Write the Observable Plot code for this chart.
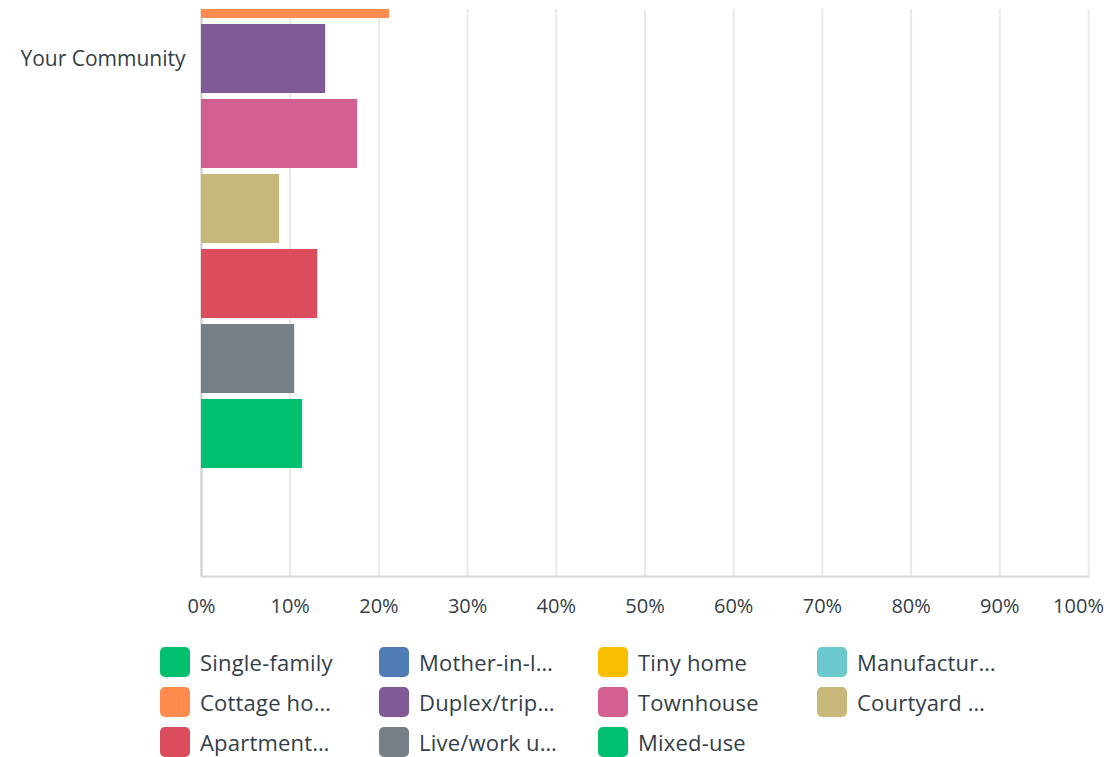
<!DOCTYPE html>
<html>
<head>
<meta charset="utf-8">
<script src="https://cdn.jsdelivr.net/npm/d3@7"></script>
<script src="https://cdn.jsdelivr.net/npm/@observablehq/plot@0.6"></script>
<style>
  html, body { margin: 0; padding: 0; background: #fff; }
  body { width: 1110px; height: 757px; overflow: hidden; font-family: "Open Sans", sans-serif; color: #333e48; }
  #chart { margin-top: 9px; height: 623px; overflow: hidden; position: relative; }
  #chart svg { display: block; margin-top: -491px; }
  #legend { display: grid; grid-template-columns: repeat(4, 219px); row-gap: 10px; margin-left: 160px; margin-top: 15px; }
  .item { display: flex; align-items: center; height: 30px; font-size: 22px; letter-spacing: 0.2px; white-space: nowrap; }
  .sw { width: 30px; height: 30px; border-radius: 5px; margin-right: 10px; flex: none; }
</style>
</head>
<body>
<div id="chart"></div>
<div id="legend"></div>
<script>
// Data
const groups = ["Your Community"];
const series = ["Single-family", "Mother-in-law", "Tiny home", "Manufactured", "Cottage home", "Duplex/triplex", "Townhouse", "Courtyard", "Apartment", "Live/work unit", "Mixed-use"];
const legendLabels = ["Single-family", "Mother-in-l…", "Tiny home", "Manufactur…", "Cottage ho…", "Duplex/trip…", "Townhouse", "Courtyard …", "Apartment…", "Live/work u…", "Mixed-use"];
const colors = ["#00BF6F", "#507CB6", "#F9BE00", "#6BC8CD", "#FF8B4F", "#7F5A96", "#D25F90", "#C7B879", "#DB4D5C", "#768086", "#00BF6F"];
// values (%) — the first four bars lie outside the visible (cropped) area
const values = [null, null, null, null, 21.2, 14.0, 17.6, 8.8, 13.1, 10.5, 11.4];
const xTicks = [0, 10, 20, 30, 40, 50, 60, 70, 80, 90];
const xTicksEnd = [100];

const data = series.map((s, i) => ({group: groups[0], series: s, value: values[i]}))
  .filter(d => d.value != null);

const chart = Plot.plot({
  width: 1110,
  height: 1118,
  marginTop: 20,
  marginBottom: 60,
  marginLeft: 201,
  marginRight: 22,
  style: {fontFamily: "'Open Sans', sans-serif", fontSize: "20px", color: "#333e48", background: "transparent"},
  x: {domain: [0, 100], axis: null},
  y: {domain: series, paddingInner: 0.08, paddingOuter: 1.42, align: 0.507, axis: null},
  fy: {domain: groups, padding: 0, axis: null},
  color: {domain: series, range: colors},
  marks: [
    Plot.ruleX(xTicks.concat(xTicksEnd), {stroke: "#e9e9e9", strokeWidth: 2}),
    Plot.ruleX([0], {stroke: "#cfcfcf", strokeWidth: 2}),
    Plot.barX(data, {x: "value", y: "series", fy: "group", fill: "series"}),
    Plot.frame({anchor: "bottom", stroke: "#d6d6d6", strokeWidth: 2}),
    Plot.axisX(xTicks, {tickSize: 0, tickPadding: 22, tickFormat: d => d + "%", fontSize: 20, fill: "#333e48", label: null}),
    Plot.axisX(xTicksEnd, {tickSize: 0, tickPadding: 22, tickFormat: d => d + "%", fontSize: 20, fill: "#333e48", label: null, dx: -10}),
    Plot.axisFy({anchor: "left", tickSize: 0, tickPadding: 16, label: null, fontSize: 21, fill: "#333e48", dy: 2, style: {letterSpacing: "0.3px"}})
  ]
});
document.getElementById("chart").appendChild(chart);

const legend = document.getElementById("legend");
series.forEach((s, i) => {
  const item = document.createElement("div");
  item.className = "item";
  const sw = document.createElement("span");
  sw.className = "sw";
  sw.style.background = colors[i];
  const t = document.createElement("span");
  t.textContent = legendLabels[i];
  item.appendChild(sw);
  item.appendChild(t);
  legend.appendChild(item);
});
</script>
</body>
</html>
